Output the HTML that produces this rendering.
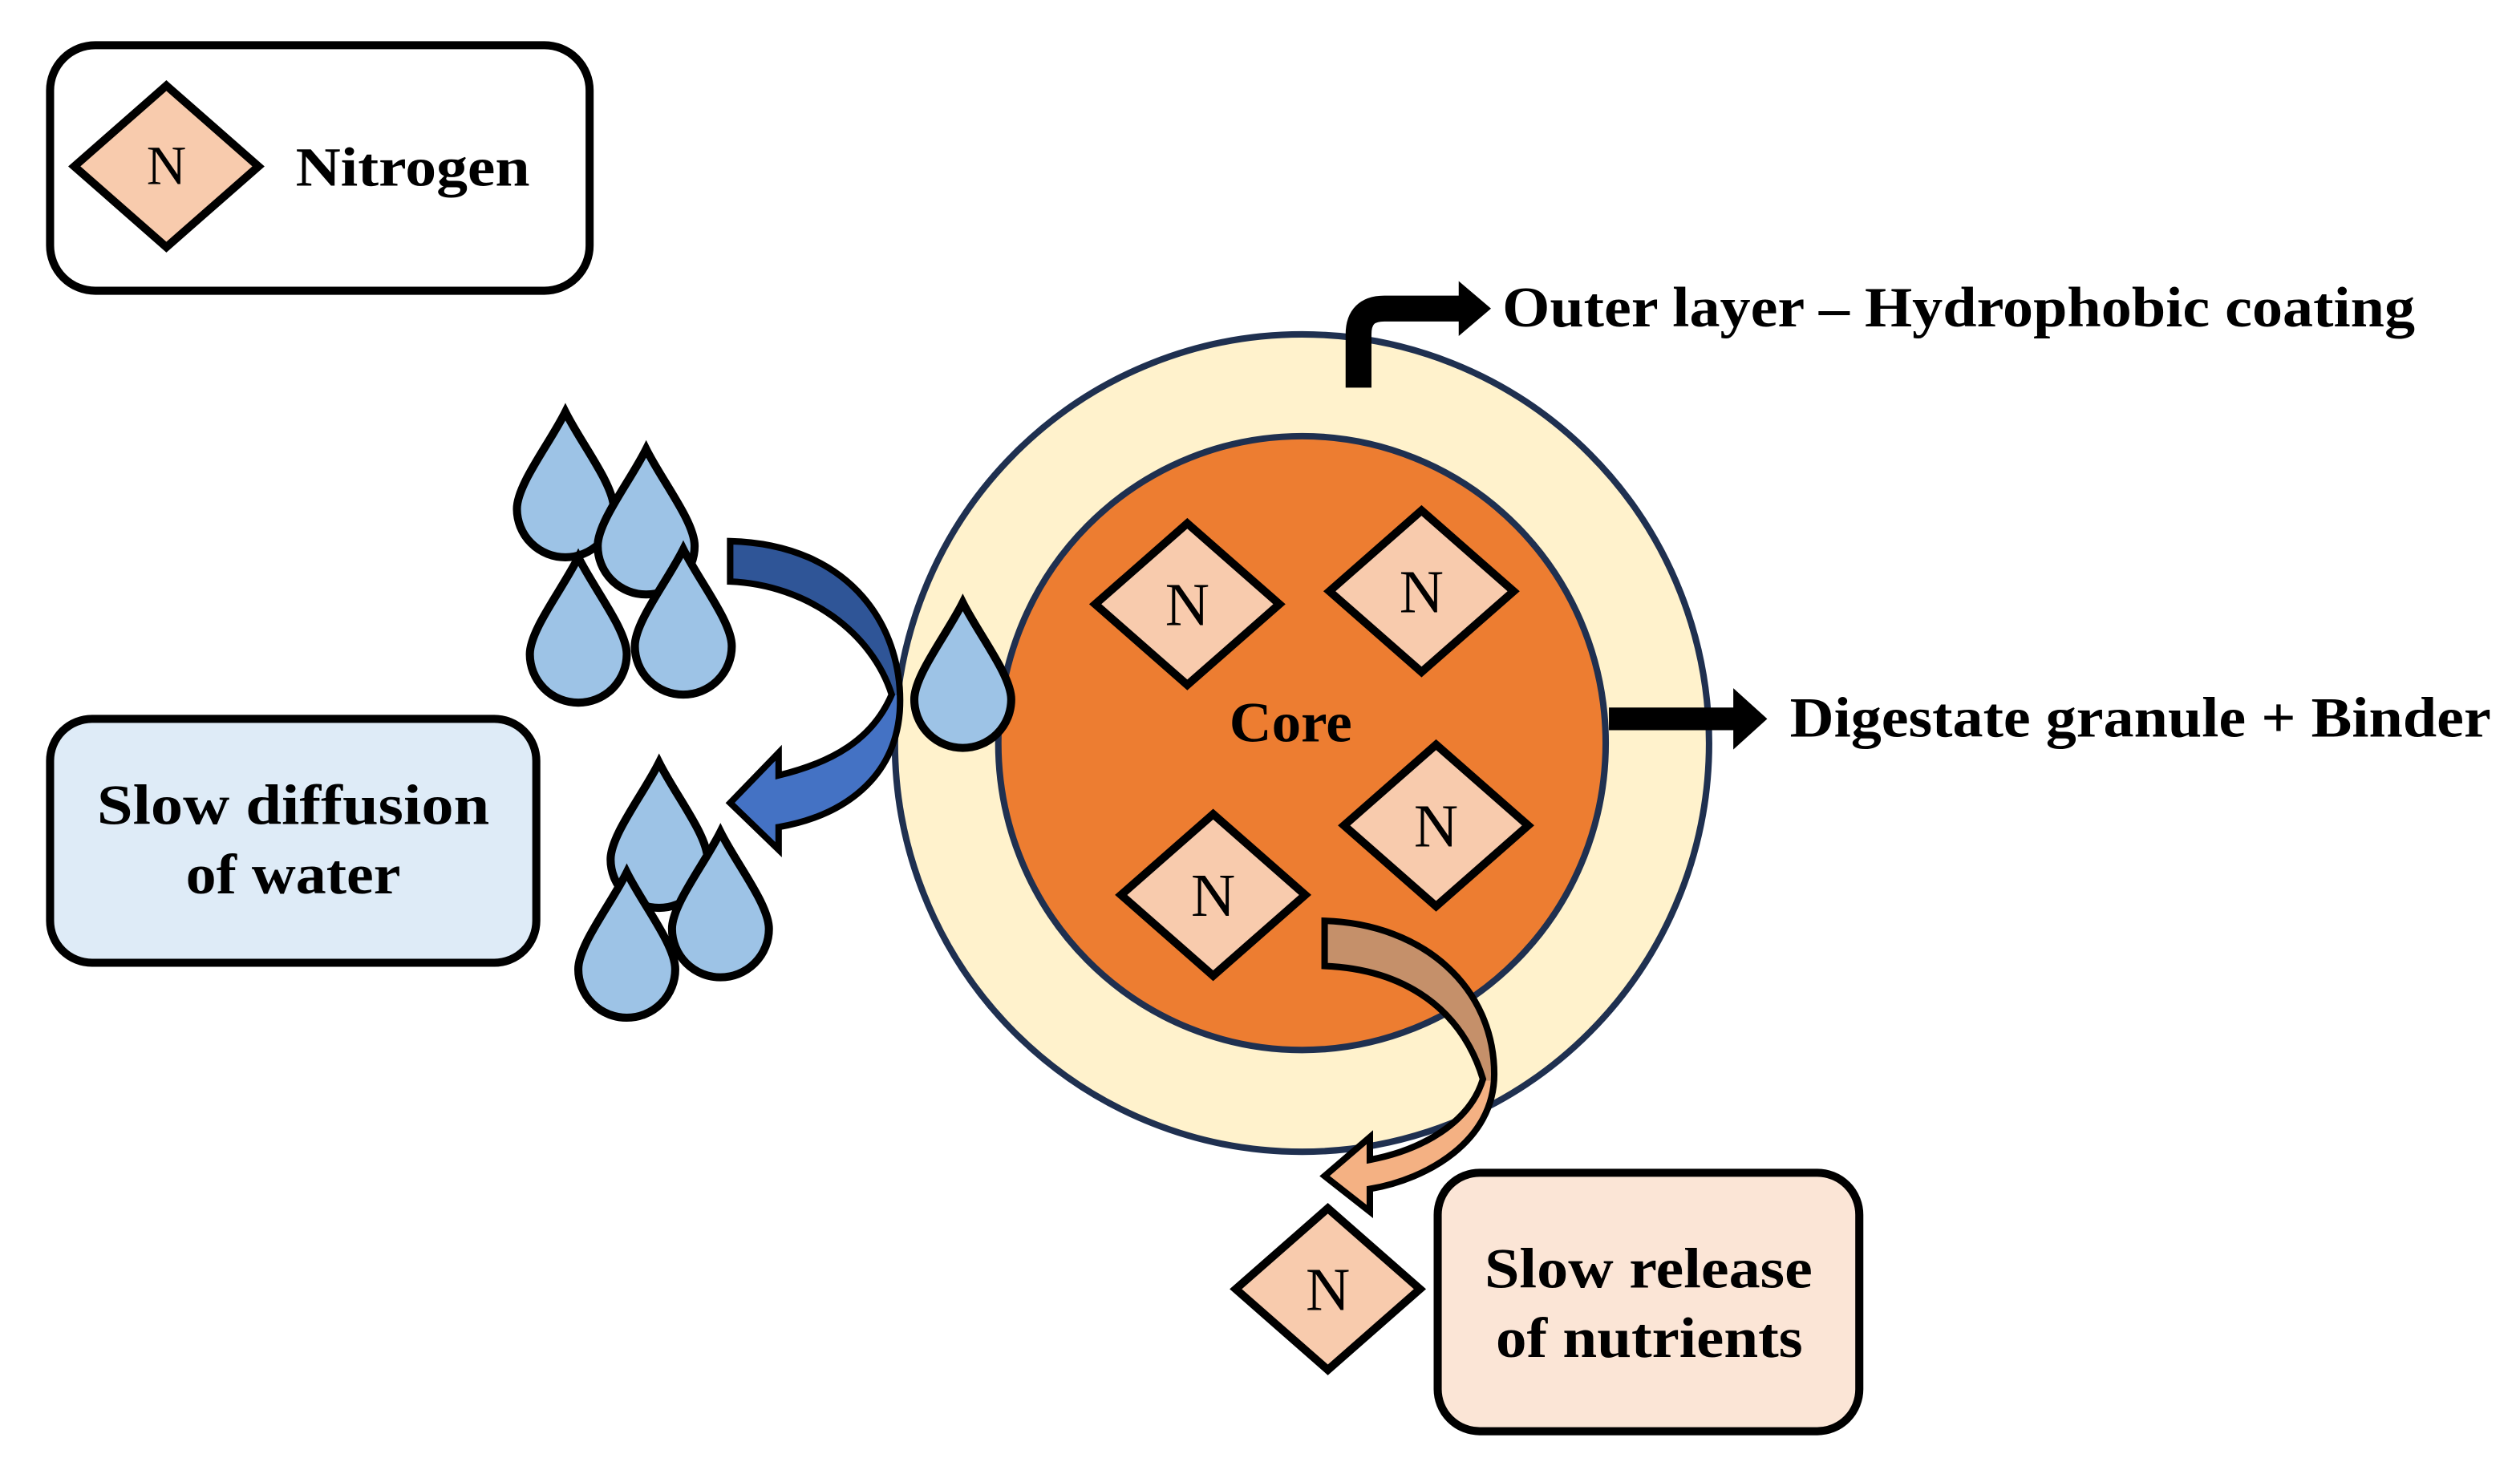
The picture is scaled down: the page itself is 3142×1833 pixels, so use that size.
<!DOCTYPE html>
<html><head><meta charset="utf-8"><style>html,body{margin:0;padding:0;background:#fff}svg{display:block}</style></head>
<body>
<svg width="3142" height="1833" viewBox="0 0 1560 910" preserveAspectRatio="none" xmlns="http://www.w3.org/2000/svg" font-family="'Liberation Serif', serif" font-weight="bold">
<defs>
<path id="drop" d="M0,-45 C10,-25 30,0 30,15 A30,30 0 1 1 -30,15 C-30,0 -10,-25 0,-45Z" fill="#9dc3e6" stroke="#000" stroke-width="5" stroke-linejoin="miter"/>
<linearGradient id="bg" x1="0" y1="0" x2="0" y2="1"><stop offset="0.5" stop-color="#2f5597"/><stop offset="0.5" stop-color="#4472c4"/></linearGradient>
<linearGradient id="og" x1="0" y1="0" x2="0" y2="1"><stop offset="0.55" stop-color="#c5906a"/><stop offset="0.55" stop-color="#f4b183"/></linearGradient>
</defs>
<rect width="1560" height="910" fill="#fff"/>
<rect x="31" y="28" width="334" height="152" rx="28" fill="#fff" stroke="#000" stroke-width="5"/>
<polygon points="103,53 160,103 103,153 46,103" fill="#f8cbad" stroke="#000" stroke-width="5"/>
<text x="103" y="114" font-size="34" font-weight="normal" text-anchor="middle">N</text>
<text x="183" y="115" font-size="34" textLength="145" lengthAdjust="spacingAndGlyphs">Nitrogen</text>
<ellipse cx="806" cy="460" rx="252" ry="253" fill="#fff2cc" stroke="#1f3050" stroke-width="4"/>
<ellipse cx="806" cy="460" rx="188" ry="190" fill="#ed7d31" stroke="#1f3050" stroke-width="4"/>
<g fill="#f8cbad" stroke="#000" stroke-width="5">
<polygon points="735,324 792,374 735,424 678,374"/>
<polygon points="880,316 937,366 880,416 823,366"/>
<polygon points="889,461 946,511 889,561 832,511"/>
<polygon points="751,504 808,554 751,604 694,554"/>
<polygon points="822,748 879,798 822,848 765,798"/>
</g>
<g font-size="38" font-weight="normal" text-anchor="middle">
<text x="735" y="387">N</text><text x="880" y="379">N</text><text x="889" y="524">N</text><text x="751" y="567">N</text><text x="822" y="811">N</text>
</g>
<text x="761" y="459" font-size="35" textLength="76" lengthAdjust="spacingAndGlyphs">Core</text>
<path d="M841,240 L841,207 Q841,191 857,191 L906,191" fill="none" stroke="#000" stroke-width="16"/>
<polygon points="903,174 923,191 903,208" fill="#000"/>
<text x="930" y="202" font-size="35" textLength="565" lengthAdjust="spacingAndGlyphs">Outer layer – Hydrophobic coating</text>
<line x1="996" y1="445" x2="1076" y2="445" stroke="#000" stroke-width="14"/>
<polygon points="1073,426 1094,445 1073,464" fill="#000"/>
<text x="1108" y="456" font-size="35" textLength="434" lengthAdjust="spacingAndGlyphs">Digestate granule + Binder</text>
<use href="#drop" x="350" y="300"/>
<use href="#drop" x="400" y="323"/>
<use href="#drop" x="358" y="390"/>
<use href="#drop" x="423" y="385"/>
<use href="#drop" x="408" y="517"/>
<use href="#drop" x="388" y="585"/>
<use href="#drop" x="446" y="560"/>
<use href="#drop" x="596" y="418"/>
<path d="M452,335 C528,337 560,390 557,440 C554,482 522,505 482,512 L482,526 L452,497 L482,466 L482,480 C515,472 540,458 552,430 C540,392 500,362 452,360 Z" fill="url(#bg)" stroke="#000" stroke-width="4" stroke-linejoin="miter"/>
<path d="M820,570 C882,572 925,612 925,665 C925,706 884,730 848,736 L848,750 L820,728 L848,704 L848,718 C880,712 910,695 918,668 C905,625 870,600 820,598 Z" fill="url(#og)" stroke="#000" stroke-width="4" stroke-linejoin="miter"/>
<rect x="31" y="445" width="301" height="151" rx="26" fill="#deebf7" stroke="#000" stroke-width="5"/>
<text x="60" y="510" font-size="35" textLength="243" lengthAdjust="spacingAndGlyphs">Slow diffusion</text>
<text x="115" y="553" font-size="35" textLength="133" lengthAdjust="spacingAndGlyphs">of water</text>
<rect x="890" y="726" width="261" height="160" rx="26" fill="#fbe5d6" stroke="#000" stroke-width="5"/>
<text x="919" y="797" font-size="35" textLength="203" lengthAdjust="spacingAndGlyphs">Slow release</text>
<text x="926" y="840" font-size="35" textLength="190" lengthAdjust="spacingAndGlyphs">of nutrients</text>
</svg>
</body></html>
